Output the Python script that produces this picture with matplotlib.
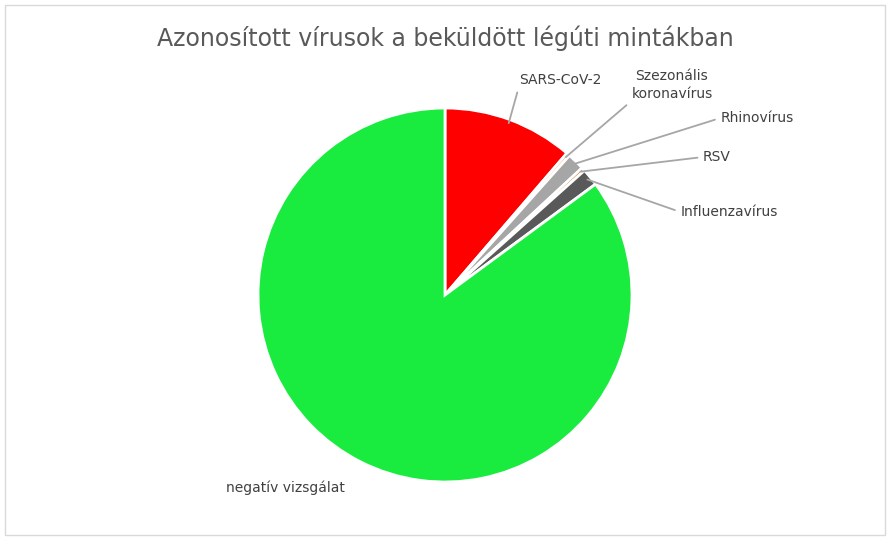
import matplotlib.pyplot as plt
import numpy as np
from matplotlib.patches import Rectangle

labels = ["SARS-CoV-2", "Szezonális\nkoronavírus", "Rhinovírus", "RSV", "Influenzavírus", "negatív vizsgálat"]
values = [11.3, 0.3, 1.5, 0.3, 1.5, 85.1]
colors = ["#ff0000", "#f4b183", "#a6a6a6", "#c55a11", "#595959", "#1aeb3f"]
# label centre positions in pixels (x, y from top)
label_pos = [(560, 80), (672, 85), (757, 118), (717, 157), (729, 212), (285, 488)]
# where the leader line attaches to the label box
rel_pos = [(0, 0), (0.05, 0.1), (0, 0.5), (0, 0.5), (0, 0.5), None]

W, H = 890, 540
fig = plt.figure(figsize=(W / 100, H / 100), dpi=100)
fig.patches.append(Rectangle((5 / W, 5 / H), 880 / W, 530 / H, transform=fig.transFigure,
                             fill=False, edgecolor="#d9d9d9", lw=1))
cx, cy, r = 445, 295, 187
ax = fig.add_axes([(cx - r) / W, (H - cy - r) / H, 2 * r / W, 2 * r / H])
wedges, _ = ax.pie(values, colors=colors, startangle=90, counterclock=False,
                   wedgeprops=dict(edgecolor="white", linewidth=2))
ax.set_xlim(-1, 1)
ax.set_ylim(-1, 1)
ax.set_aspect("equal")

for w, lab, (px, py), rp in zip(wedges, labels, label_pos, rel_pos):
    ang = np.deg2rad((w.theta1 + w.theta2) / 2)
    x0, y0 = np.cos(ang), np.sin(ang)
    if rp is None:
        fig.text(px / W, 1 - py / H, lab, ha="center", va="center", fontsize=10, color="#404040")
        continue
    ax.annotate(lab, xy=(x0 * 0.98, y0 * 0.98), xytext=(px, H - py), textcoords="figure pixels",
                ha="center", va="center", fontsize=10, color="#404040", linespacing=1.3,
                arrowprops=dict(arrowstyle="-", color="#a6a6a6", lw=1.3, shrinkA=2, shrinkB=0,
                                relpos=rp))

fig.text(445 / W, 1 - 38 / H, "Azonosított vírusok a beküldött légúti mintákban",
         ha="center", va="center", fontsize=17, color="#595959")
fig.savefig("out.png", dpi=100)
